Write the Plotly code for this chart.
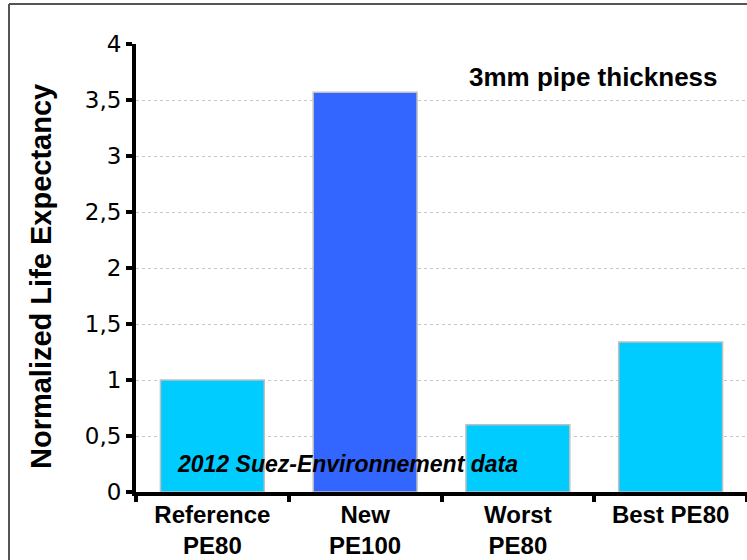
import plotly.graph_objects as go

categories = ["Reference<br>PE80", "New<br>PE100", "Worst<br>PE80", "Best PE80"]
values = [1.0, 3.57, 0.6, 1.34]
bar_colors = ["#00CCFF", "#3366FF", "#00CCFF", "#00CCFF"]
y_ticks = [0, 0.5, 1, 1.5, 2, 2.5, 3, 3.5, 4]

W, H = 747, 560
ML, MR, MT, MB = 136, 0, 44, 68
pw = W - ML - MR
ph = H - MT - MB
Y0 = 492  # window pixel of y=0


def px_x(x):
    return (x - ML) / pw


def px_y(y):
    return (Y0 - y) / ph


fig = go.Figure()
fig.add_trace(go.Bar(
    x=categories, y=values,
    marker=dict(color=bar_colors, line=dict(color="#c0c0c0", width=1.5)),
    width=0.68,
))

fig.update_layout(
    width=W, height=H,
    margin=dict(l=ML, r=MR, t=MT, b=MB, pad=0, autoexpand=False),
    paper_bgcolor="white", plot_bgcolor="white",
    separators=",.",
    showlegend=False,
    bargap=0.32,
    font=dict(family="Liberation Sans, Arial", color="black"),
)
fig.update_xaxes(
    type="category", automargin=False,
    showline=True, linecolor="black", linewidth=4,
    ticks="outside", tickson="boundaries", ticklen=6, tickwidth=4, tickcolor="black",
    ticklabelstandoff=-2,
    tickfont=dict(family="Liberation Sans, Arial", size=24, color="black", weight="bold"),
    showgrid=False,
    range=[-0.5, 3.5],
)
fig.update_yaxes(
    range=[0, 4], automargin=False,
    tickvals=y_ticks,
    showline=True, linecolor="black", linewidth=4,
    ticks="outside", ticklen=6, tickwidth=4, tickcolor="black",
    tickfont=dict(family="DejaVu Sans, Verdana", size=23, color="black"),
    showgrid=True, gridcolor="#c8c8c8", gridwidth=1, griddash="dot",
    zeroline=False,
)

fig.add_annotation(
    x=px_x(41), y=px_y(277), xref="paper", yref="paper",
    text="<b>Normalized Life Expectancy</b>", textangle=-90,
    showarrow=False, font=dict(family="Liberation Sans, Arial", size=29, color="black"),
    xanchor="center", yanchor="middle",
)
fig.add_annotation(
    x=px_x(593), y=px_y(77), xref="paper", yref="paper",
    text="<b>3mm pipe thickness</b>", showarrow=False,
    font=dict(family="Liberation Sans, Arial", size=26, color="black"),
    xanchor="center", yanchor="middle",
)
fig.add_annotation(
    x=px_x(347), y=px_y(464), xref="paper", yref="paper",
    text="<b><i>2012 Suez-Environnement data</i></b>", showarrow=False,
    font=dict(family="Liberation Sans, Arial", size=23, color="black"),
    xanchor="center", yanchor="middle",
)

# outer chart frame (only its left and top edges are inside the picture)
frame = dict(color="#555555", width=2)
fig.add_shape(type="line", xref="paper", yref="paper",
              x0=px_x(9), x1=px_x(9), y0=px_y(H + 5), y1=px_y(4), line=frame, layer="below")
fig.add_shape(type="line", xref="paper", yref="paper",
              x0=px_x(9), x1=px_x(W + 5), y0=px_y(4), y1=px_y(4), line=frame, layer="below")

page_css = (
    "var de=document.documentElement,b=document.body;"
    "de.style.margin='0';de.style.padding='0';de.style.overflow='hidden';"
    "b.style.margin='0';b.style.padding='0';b.style.overflow='hidden';"
)

fig.write_html(
    "out.html",
    config={"displayModeBar": False},
    post_script=page_css,
)
